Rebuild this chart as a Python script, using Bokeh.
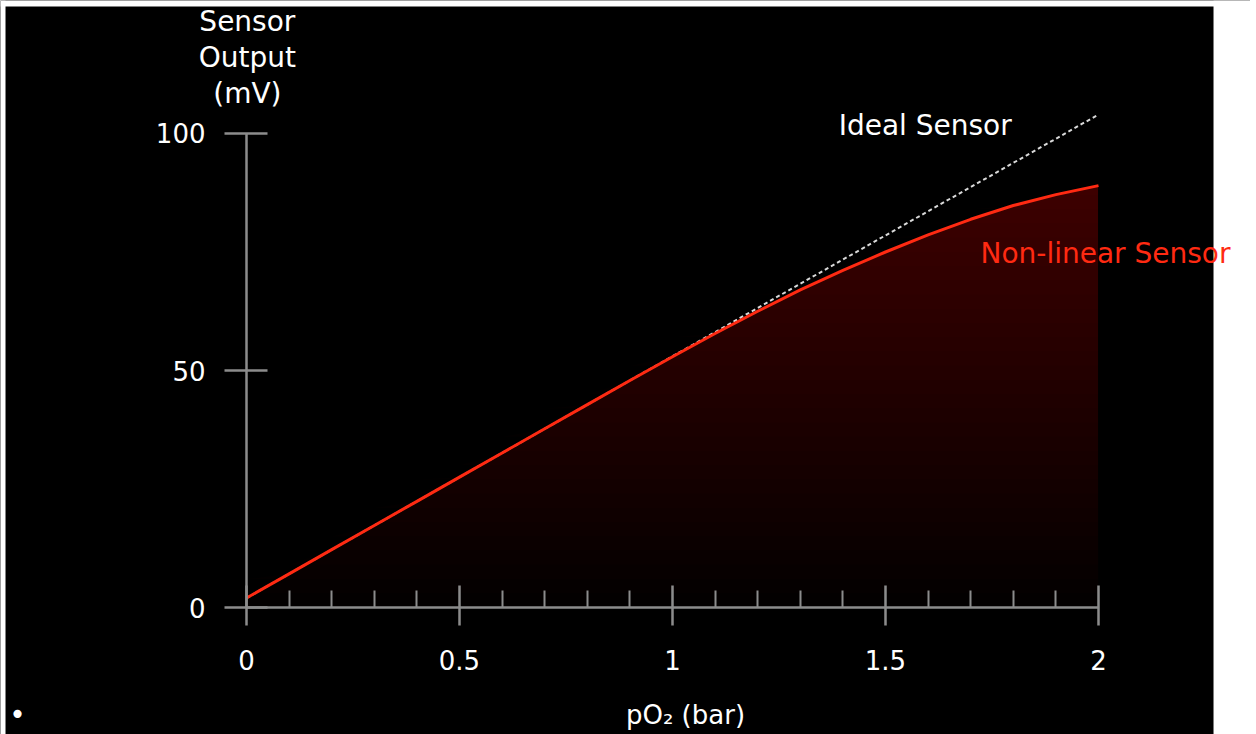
import numpy as np
from bokeh.plotting import figure
from bokeh.models import Range1d, FixedTicker, Label, BoxAnnotation
from bokeh.embed import file_html
from bokeh.resources import INLINE

# ---- data ----
po2_bar = [0.0, 0.1, 0.2, 0.3, 0.4, 0.5, 0.6, 0.7, 0.8, 0.9, 1.0,
           1.1, 1.2, 1.3, 1.4, 1.5, 1.6, 1.7, 1.8, 1.9, 2.0]
sensor_mv = [2.0, 7.1, 12.2, 17.3, 22.4, 27.5, 32.6, 37.7, 42.8, 47.9, 52.9,
             57.8, 62.5, 67.0, 71.1, 75.0, 78.6, 81.9, 84.8, 87.1, 89.0]
ideal_po2 = [0.0, 2.0]
ideal_mv = [2.0, 104.0]

x_major_ticks = [0.0, 0.5, 1.0, 1.5, 2.0]
x_tick_labels = ["0", "0.5", "1", "1.5", "2"]
x_minor_ticks = [0.1, 0.2, 0.3, 0.4, 0.6, 0.7, 0.8, 0.9,
                 1.1, 1.2, 1.3, 1.4, 1.6, 1.7, 1.8, 1.9]
y_major_ticks = [0, 50, 100]
y_tick_labels = ["0", "50", "100"]

y_title_lines = ["Sensor", "Output", "(mV)"]
x_title = "pO\u2082 (bar)"
ideal_label = "Ideal Sensor"
real_label = "Non-linear Sensor"

# ---- styling ----
FONT = "DejaVu Sans"
RED = "#ff2a12"
AXIS = "#8c8c8c"

p = figure(width=1250, height=734,
           x_range=Range1d(-0.57746, 2.35681), y_range=Range1d(-26.793, 128.059),
           output_backend="svg", toolbar_location=None,
           min_border_left=0, min_border_right=0,
           min_border_top=0, min_border_bottom=0,
           background_fill_color="black", border_fill_color="black")
p.outline_line_color = None
p.grid.visible = False

# white screenshot margins of the reference (right, left, top)
for kw in (dict(left=2.270), dict(right=-0.5657), dict(bottom=126.79)):
    p.add_layout(BoxAnnotation(fill_color="white", fill_alpha=1.0,
                               line_color=None, level="underlay", **kw))

# x axis (drawn at y = 0 inside the frame)
xa = p.xaxis[0]
xa.fixed_location = 0
xa.ticker = FixedTicker(ticks=x_major_ticks, minor_ticks=x_minor_ticks)
xa.bounds = (0, 2)
xa.major_label_overrides = {t: l for t, l in zip(x_major_ticks, x_tick_labels)}
xa.axis_line_color = AXIS
xa.axis_line_width = 2.5
xa.major_tick_line_color = AXIS
xa.major_tick_line_width = 2.5
xa.major_tick_in = 22
xa.major_tick_out = 18
xa.minor_tick_line_color = AXIS
xa.minor_tick_line_width = 2
xa.minor_tick_in = 17
xa.minor_tick_out = 0
xa.major_label_text_color = "white"
xa.major_label_text_font = FONT
xa.major_label_text_font_size = "26px"
xa.major_label_standoff = 24

# y axis (drawn at x = 0 inside the frame)
ya = p.yaxis[0]
ya.fixed_location = 0
ya.ticker = FixedTicker(ticks=y_major_ticks, minor_ticks=[])
ya.bounds = (0, 100)
ya.major_label_overrides = {t: l for t, l in zip(y_major_ticks, y_tick_labels)}
ya.axis_line_color = AXIS
ya.axis_line_width = 2.5
ya.major_tick_line_color = AXIS
ya.major_tick_line_width = 2.5
ya.major_tick_in = 21
ya.major_tick_out = 22
ya.minor_tick_line_color = None
ya.major_label_text_color = "white"
ya.major_label_text_font = FONT
ya.major_label_text_font_size = "26px"
ya.major_label_standoff = 19

# gradient-like fill under the sensor curve (stacked translucent layers)
curve = np.array(sensor_mv)
for t in np.arange(0.0, 89.0, 3.0):
    p.varea(x=po2_bar, y1=float(t), y2=np.maximum(curve, t),
            fill_color=RED, fill_alpha=0.0105)

# ideal sensor (dotted) and real sensor (red)
p.line(ideal_po2, ideal_mv, line_color="#d9d9d9", line_width=2, line_dash="4 3")
p.line(po2_bar, sensor_mv, line_color=RED, line_width=3)

# texts
for txt, yy in zip(y_title_lines, [123.63, 116.03, 108.44]):
    p.add_layout(Label(x=0.002, y=yy, text=txt, text_align="center",
                       text_baseline="middle", text_color="white",
                       text_font=FONT, text_font_size="28px"))

p.add_layout(Label(x=1.390, y=101.7, text=ideal_label, text_align="left",
                   text_baseline="middle", text_color="white",
                   text_font=FONT, text_font_size="28px"))
p.add_layout(Label(x=1.723, y=74.68, text=real_label, text_align="left",
                   text_baseline="middle", text_color=RED,
                   text_font=FONT, text_font_size="28px"))
p.add_layout(Label(x=1.0305, y=-19.62, text=x_title, text_align="center",
                   text_baseline="top", text_color="white",
                   text_font=FONT, text_font_size="26px"))
p.add_layout(Label(x=-0.5376, y=-22.57, text="\u2022", text_align="center",
                   text_baseline="middle", text_color="white",
                   text_font=FONT, text_font_size="28px"))

open("out.html", "w").write(file_html(p, INLINE))
